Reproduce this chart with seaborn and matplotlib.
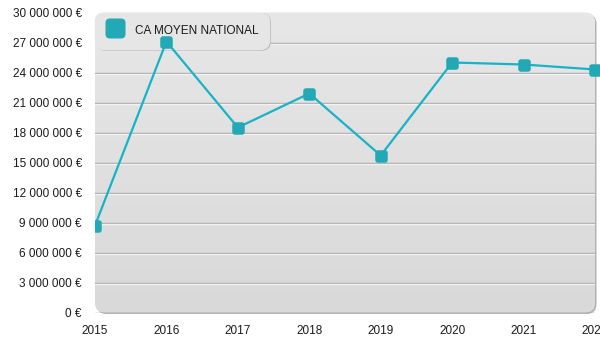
import numpy as np
import pandas as pd
import matplotlib
matplotlib.use("Agg")
import matplotlib.pyplot as plt
import seaborn as sns
from matplotlib.patches import FancyBboxPatch, Rectangle
from matplotlib.lines import Line2D
from matplotlib.transforms import IdentityTransform, offset_copy
from matplotlib.colors import LinearSegmentedColormap
from matplotlib.ticker import FuncFormatter

# --- data -------------------------------------------------------------
years = [2015, 2016, 2017, 2018, 2019, 2020, 2021, 2022]
ca_moyen = [8.7e6, 27.1e6, 18.5e6, 21.9e6, 15.7e6, 25.0e6, 24.8e6, 24.3e6]
series_label = "CA MOYEN NATIONAL"
y_ticks = list(range(0, 30_000_001, 3_000_000))

# --- style --------------------------------------------------------------
LINE_COLOR = "#17b3c6"
MARKER_COLOR = "#23a8b6"
TEXT_COLOR = "#1a1a1a"
FONT_SIZE = 8.5

sns.set_theme(style="white")
plt.rcParams["font.family"] = ["Liberation Sans", "DejaVu Sans"]

W, H, DPI = 600, 350, 100
fig = plt.figure(figsize=(W / DPI, H / DPI), dpi=DPI)
fig.patch.set_facecolor("white")
ax = fig.add_axes([95 / W, 37.5 / H, 500 / W, 300 / H])
ax.set_facecolor("none")
for s in ax.spines.values():
    s.set_visible(False)

# rounded square used as marker shape
marker_path = FancyBboxPatch((-0.5, -0.5), 1, 1,
                             boxstyle="round,pad=0,rounding_size=0.22").get_path()

# --- rounded plot panel with soft shadow and vertical gradient -----------
bb = ax.get_position()
px0, py0, pw, ph = bb.x0 * W, bb.y0 * H, bb.width * W, bb.height * H
panel_shadow = FancyBboxPatch((px0 + 1.5, py0 - 1.5), pw, ph,
                              boxstyle="round,pad=0,rounding_size=10",
                              transform=IdentityTransform(), fc="#b2b2b2",
                              ec="none", zorder=0, clip_on=False)
panel = FancyBboxPatch((px0, py0), pw, ph,
                       boxstyle="round,pad=0,rounding_size=10",
                       transform=IdentityTransform(), fc="#e1e1e1",
                       ec="none", zorder=0.1, clip_on=False)
ax.add_patch(panel_shadow)
ax.add_patch(panel)
grad = np.linspace(0, 1, 256).reshape(-1, 1)
cmap = LinearSegmentedColormap.from_list("panel", ["#e7e7e7", "#d9d9d9"])
im = ax.imshow(grad, cmap=cmap, extent=[0, 1, 0, 1], transform=ax.transAxes,
               aspect="auto", origin="upper", zorder=0.2)
im.set_clip_path(panel)

# --- grid lines (gray line with a light highlight just below) -----------
ax.set_yticks(y_ticks)
ax.yaxis.grid(True, color="#a8a8a8", lw=1)
ax.yaxis.get_gridlines()[-1].set_visible(False)
hl_trans = offset_copy(ax.get_yaxis_transform(), fig=fig, y=-1, units="dots")
for v in y_ticks[1:-1]:
    ax.add_line(Line2D([0, 1], [v, v], color="#f2f2f2", lw=1,
                       transform=hl_trans, zorder=1.4))

# --- series ---------------------------------------------------------------
df = pd.DataFrame({"Année": years, "CA": ca_moyen})
sns.lineplot(data=df, x="Année", y="CA", ax=ax, color=LINE_COLOR, lw=1.6,
             marker=marker_path, markersize=9, markerfacecolor=MARKER_COLOR,
             markeredgewidth=0, zorder=3, legend=False)
series_line = ax.lines[-1]
series_line.set_clip_path(Rectangle((0, -0.2), 1.2, 1.4, transform=ax.transAxes))

# --- axes -----------------------------------------------------------------
ax.set_xlim(years[0], years[-1])
ax.set_ylim(y_ticks[0], y_ticks[-1])
ax.set_xticks(years)
ax.yaxis.set_major_formatter(
    FuncFormatter(lambda v, _: f"{int(round(v)):,}".replace(",", " ") + " €"))
ax.set_xlabel("")
ax.set_ylabel("")
ax.tick_params(axis="both", length=0, labelsize=FONT_SIZE, labelcolor=TEXT_COLOR)
ax.tick_params(axis="y", pad=9.5)
ax.tick_params(axis="x", pad=9)

# --- legend -----------------------------------------------------------------
handle = Line2D([], [], ls="none", marker=marker_path, markersize=14.4,
                markerfacecolor=MARKER_COLOR, markeredgewidth=0)
leg = ax.legend([handle], [series_label], loc="upper left",
                bbox_to_anchor=(0, 1), borderaxespad=0, borderpad=0.85,
                handlelength=1.7, handleheight=1.7, handletextpad=0.85,
                fontsize=FONT_SIZE, frameon=True, facecolor="#e6e6e6",
                edgecolor="#e6e6e6", framealpha=1,
                shadow={"ox": 1, "oy": -1, "facecolor": "#b0b0b0",
                        "edgecolor": "#b0b0b0", "alpha": 1})
leg.get_frame().set_boxstyle("round,pad=0,rounding_size=0.7")
for t in leg.get_texts():
    t.set_color(TEXT_COLOR)
leg.set_zorder(2.5)

fig.savefig("out.png", dpi=DPI)
